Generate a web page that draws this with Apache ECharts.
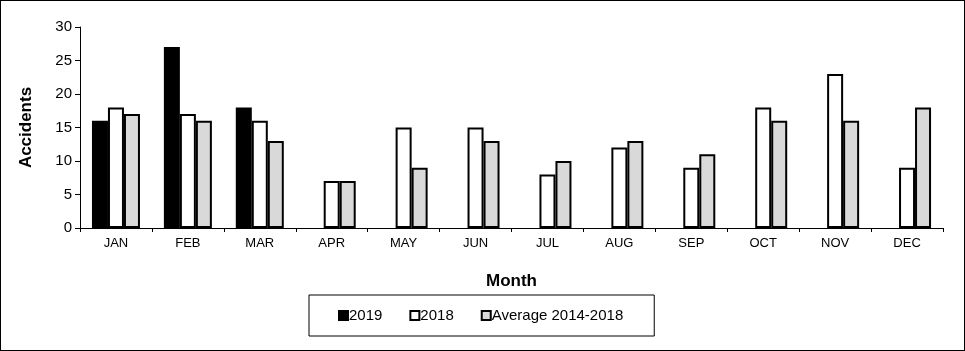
<!DOCTYPE html>
<html>
<head>
<meta charset="utf-8">
<script src="https://cdn.jsdelivr.net/npm/echarts@6/dist/echarts.min.js"></script>
<style>
  html, body { margin: 0; padding: 0; background: #fff; }
  #chart { width: 965px; height: 351px; box-sizing: border-box; border: 1px solid #000; }
</style>
</head>
<body>
<div id="chart"></div>
<script>
// monthly accident counts
const months = ['JAN', 'FEB', 'MAR', 'APR', 'MAY', 'JUN', 'JUL', 'AUG', 'SEP', 'OCT', 'NOV', 'DEC']
const data2019 = [16, 27, 18, null, null, null, null, null, null, null, null, null]
const data2018 = [18, 17, 16, 7, 15, 15, 8, 12, 9, 18, 23, 9]
const dataAvg = [17, 16, 13, 7, 9, 13, 10, 13, 11, 16, 16, 18]

const font = 'Arial, "Liberation Sans", sans-serif'

const chart = echarts.init(document.getElementById('chart'))

function barSeries (name, data, color) {
  return {
    name: name,
    type: 'bar',
    data: data,
    barWidth: 16,
    barGap: '0%',
    itemStyle: {
      color: color,
      borderColor: '#000',
      borderWidth: 2
    },
    animation: false
  }
}

chart.setOption({
  backgroundColor: '#fff',
  textStyle: { fontFamily: font, color: '#000' },
  grid: {
    left: 79,
    right: 21,
    top: 26,
    bottom: 122
  },
  legend: {
    left: 308,
    top: 294,
    padding: [13, 31, 13, 29],
    borderColor: '#000',
    borderWidth: 1,
    icon: 'rect',
    itemWidth: 9,
    itemHeight: 9,
    itemGap: 27,
    textStyle: { fontFamily: font, fontSize: 15, color: '#000', padding: [0, 0, 0, -4] },
    data: ['2019', '2018', 'Average 2014-2018']
  },
  xAxis: {
    type: 'category',
    data: months,
    name: 'Month',
    nameLocation: 'middle',
    nameGap: 45,
    nameTextStyle: { fontFamily: font, fontSize: 17, fontWeight: 'bold', color: '#000' },
    axisLine: { lineStyle: { color: '#000', width: 1 } },
    axisTick: { show: true, length: 4, lineStyle: { color: '#000' } },
    axisLabel: { fontFamily: font, fontSize: 13, color: '#000', margin: 9 }
  },
  yAxis: {
    type: 'value',
    min: 0,
    max: 30,
    interval: 5,
    name: 'Accidents',
    nameLocation: 'middle',
    nameGap: 45,
    nameTextStyle: { fontFamily: font, fontSize: 17, fontWeight: 'bold', color: '#000' },
    axisLine: { show: true, lineStyle: { color: '#000', width: 1 } },
    axisTick: { show: true, length: 5, lineStyle: { color: '#000' } },
    axisLabel: { fontFamily: font, fontSize: 15, color: '#000', margin: 8 },
    splitLine: { show: false }
  },
  series: [
    barSeries('2019', data2019, '#000'),
    barSeries('2018', data2018, '#fff'),
    barSeries('Average 2014-2018', dataAvg, '#d9d9d9')
  ]
})
</script>
</body>
</html>
